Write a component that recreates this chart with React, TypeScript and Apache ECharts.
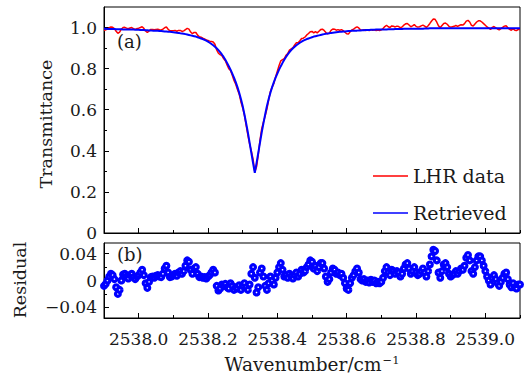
import React, { useEffect, useRef } from "react";
import * as echarts from "echarts";

// Uniform wavenumber grid (cm^-1): start and step of the sampled spectrum
const WN_START = 2537.9;
const WN_STEP = 0.005;

// Panel (a): measured LHR transmittance
const lhrData = [
  0.986, 0.989, 0.993, 0.999, 1.003, 1.001, 0.995, 0.982, 0.972, 0.978,
  0.992, 1.0, 1.001, 0.997, 0.994, 0.998, 1.0, 0.995, 0.991, 0.995,
  0.997, 1.0, 1.004, 0.996, 0.983, 0.976, 0.984, 0.991, 0.991, 0.989,
  0.991, 0.992, 0.989, 0.988, 0.992, 0.999, 1.003, 0.992, 0.984, 0.984,
  0.985, 0.986, 0.982, 0.986, 0.986, 0.981, 0.984, 0.99, 0.996, 0.992,
  0.978, 0.97, 0.976, 0.976, 0.963, 0.955, 0.953, 0.948, 0.945, 0.939,
  0.937, 0.934, 0.932, 0.93, 0.919, 0.891, 0.875, 0.868, 0.863, 0.849,
  0.838, 0.818, 0.8, 0.791, 0.768, 0.742, 0.724, 0.698, 0.676, 0.638,
  0.61, 0.574, 0.525, 0.476, 0.434, 0.4, 0.36, 0.297, 0.322, 0.38,
  0.452, 0.508, 0.541, 0.57, 0.604, 0.648, 0.689, 0.71, 0.728, 0.76,
  0.788, 0.815, 0.838, 0.844, 0.849, 0.865, 0.873, 0.89, 0.896, 0.902,
  0.915, 0.926, 0.926, 0.936, 0.947, 0.948, 0.954, 0.964, 0.971, 0.98,
  0.981, 0.974, 0.98, 0.974, 0.982, 0.99, 0.992, 0.986, 0.976, 0.969,
  0.974, 0.986, 0.993, 0.992, 0.987, 0.99, 0.987, 0.99, 0.985, 0.977,
  0.97, 0.969, 0.979, 0.988, 0.992, 0.999, 1.003, 0.998, 0.988, 0.987,
  0.989, 0.986, 0.988, 0.985, 0.99, 0.987, 0.989, 0.986, 0.988, 0.986,
  0.989, 0.995, 1.005, 1.011, 1.004, 1.0, 1.008, 1.006, 1.003, 1.007,
  1.005, 0.999, 1.003, 1.012, 1.018, 1.02, 1.012, 1.004, 1.008, 1.014,
  1.006, 1.002, 1.004, 1.008, 1.012, 1.007, 1.001, 1.009, 1.02, 1.032,
  1.042, 1.04, 1.026, 1.008, 1.0, 1.01, 1.02, 1.022, 1.016, 1.006,
  1.002, 1.004, 1.006, 1.01, 1.006, 1.01, 1.014, 1.012, 1.019, 1.031,
  1.035, 1.027, 1.011, 1.007, 1.017, 1.027, 1.033, 1.033, 1.027, 1.019,
  1.011, 1.003, 0.997, 0.991, 1.001, 1.005, 0.999, 0.993, 0.989, 0.995,
  1.001, 1.007, 1.009, 0.999, 0.991, 0.987, 0.993, 0.987, 0.985, 0.991,
  0.991,
];

// Panel (a): retrieved (fitted) transmittance
const retrieved = [
  0.994, 0.994, 0.993, 0.993, 0.993, 0.993, 0.993, 0.992, 0.992, 0.992,
  0.992, 0.991, 0.991, 0.991, 0.991, 0.99, 0.99, 0.99, 0.989, 0.989,
  0.989, 0.988, 0.988, 0.988, 0.987, 0.987, 0.986, 0.986, 0.985, 0.985,
  0.984, 0.984, 0.983, 0.983, 0.982, 0.981, 0.981, 0.98, 0.979, 0.978,
  0.977, 0.976, 0.975, 0.974, 0.972, 0.971, 0.97, 0.968, 0.966, 0.964,
  0.962, 0.96, 0.958, 0.956, 0.953, 0.95, 0.947, 0.944, 0.94, 0.936,
  0.931, 0.926, 0.92, 0.914, 0.907, 0.899, 0.89, 0.88, 0.869, 0.857,
  0.843, 0.828, 0.812, 0.795, 0.776, 0.756, 0.734, 0.71, 0.683, 0.652,
  0.618, 0.578, 0.535, 0.49, 0.44, 0.39, 0.34, 0.293, 0.34, 0.39,
  0.44, 0.49, 0.535, 0.578, 0.618, 0.652, 0.683, 0.71, 0.734, 0.756,
  0.776, 0.795, 0.812, 0.828, 0.843, 0.857, 0.869, 0.88, 0.89, 0.899,
  0.907, 0.914, 0.92, 0.926, 0.931, 0.936, 0.94, 0.944, 0.947, 0.95,
  0.953, 0.956, 0.958, 0.96, 0.962, 0.964, 0.966, 0.968, 0.97, 0.971,
  0.972, 0.974, 0.975, 0.976, 0.977, 0.978, 0.979, 0.98, 0.981, 0.981,
  0.982, 0.983, 0.983, 0.984, 0.984, 0.985, 0.985, 0.986, 0.986, 0.987,
  0.987, 0.988, 0.988, 0.988, 0.989, 0.989, 0.989, 0.99, 0.99, 0.99,
  0.991, 0.991, 0.991, 0.991, 0.992, 0.992, 0.992, 0.992, 0.993, 0.993,
  0.993, 0.993, 0.993, 0.994, 0.994, 0.994, 0.994, 0.994, 0.994, 0.994,
  0.994, 0.994, 0.994, 0.994, 0.994, 0.995, 0.995, 0.995, 0.996, 0.996,
  0.996, 0.996, 0.996, 0.996, 0.996, 0.996, 0.996, 0.996, 0.996, 0.996,
  0.996, 0.996, 0.996, 0.996, 0.996, 0.996, 0.996, 0.996, 0.997, 0.997,
  0.997, 0.997, 0.997, 0.997, 0.997, 0.997, 0.997, 0.997, 0.997, 0.997,
  0.997, 0.997, 0.997, 0.997, 0.997, 0.997, 0.997, 0.997, 0.997, 0.997,
  0.997, 0.997, 0.997, 0.997, 0.997, 0.997, 0.997, 0.997, 0.997, 0.997,
  0.997,
];

// Panel (b): residual
const residual = [
  -0.008, -0.005, 0, 0.006, 0.01, 0.008, 0.002, -0.01, -0.02, -0.014,
  0, 0.009, 0.01, 0.006, 0.003, 0.008, 0.01, 0.005, 0.002, 0.006,
  0.008, 0.012, 0.016, 0.008, -0.004, -0.011, -0.002, 0.005, 0.006, 0.004,
  0.007, 0.008, 0.006, 0.005, 0.01, 0.018, 0.022, 0.012, 0.005, 0.006,
  0.008, 0.01, 0.007, 0.012, 0.014, 0.01, 0.014, 0.022, 0.03, 0.028,
  0.016, 0.01, 0.018, 0.02, 0.01, 0.005, 0.006, 0.004, 0.005, 0.003,
  0.006, 0.008, 0.012, 0.016, 0.012, -0.008, -0.015, -0.012, -0.006, -0.008,
  -0.005, -0.01, -0.012, -0.004, -0.008, -0.014, -0.01, -0.012, -0.007, -0.014,
  -0.008, -0.004, -0.01, -0.014, -0.006, 0.01, 0.02, 0.004, -0.018, -0.01,
  0.012, 0.018, 0.006, -0.008, -0.014, -0.004, 0.006, 0, -0.006, 0.004,
  0.012, 0.02, 0.026, 0.016, 0.006, 0.008, 0.004, 0.01, 0.006, 0.003,
  0.008, 0.012, 0.006, 0.01, 0.016, 0.012, 0.014, 0.02, 0.024, 0.03,
  0.028, 0.018, 0.022, 0.014, 0.02, 0.026, 0.026, 0.018, 0.006, -0.002,
  0.002, 0.012, 0.018, 0.016, 0.01, 0.012, 0.008, 0.01, 0.004, -0.004,
  -0.012, -0.014, -0.004, 0.004, 0.008, 0.014, 0.018, 0.012, 0.002, 0,
  0.002, -0.002, 0, -0.003, 0.001, -0.002, 0, -0.004, -0.002, -0.004,
  -0.002, 0.004, 0.014, 0.02, 0.012, 0.008, 0.016, 0.014, 0.01, 0.014,
  0.012, 0.006, 0.01, 0.018, 0.024, 0.026, 0.018, 0.01, 0.014, 0.02,
  0.012, 0.008, 0.01, 0.014, 0.018, 0.012, 0.006, 0.014, 0.024, 0.036,
  0.046, 0.044, 0.03, 0.012, 0.004, 0.014, 0.024, 0.026, 0.02, 0.01,
  0.006, 0.008, 0.01, 0.014, 0.01, 0.014, 0.018, 0.016, 0.022, 0.034,
  0.038, 0.03, 0.014, 0.01, 0.02, 0.03, 0.036, 0.036, 0.03, 0.022,
  0.014, 0.006, 0, -0.006, 0.004, 0.008, 0.002, -0.004, -0.008, -0.002,
  0.004, 0.01, 0.012, 0.002, -0.006, -0.01, -0.004, -0.01, -0.012, -0.006,
  -0.006,
];

// Axis ticks
const xMajorTicks = [2538.0, 2538.2, 2538.4, 2538.6, 2538.8, 2539.0];
const xMinorTicks = [2537.9, 2538.1, 2538.3, 2538.5, 2538.7, 2538.9, 2539.1];
const tMajorTicks = [0, 0.2, 0.4, 0.6, 0.8, 1.0];
const tMinorTicks = [0.1, 0.3, 0.5, 0.7, 0.9];
const rMajorTicks = [-0.04, 0, 0.04];
const rMinorTicks = [-0.02, 0.02];

const wavenumber = lhrData.map((_, i) => +(WN_START + WN_STEP * i).toFixed(3));

const FONT = "DejaVu Serif";
const TXT = "#1a1a1a";
const TICK_FS = 17;
const TITLE_FS = 17.5;
const LEGEND_FS = 19;

export default function App() {
  const ref = useRef<HTMLDivElement>(null);
  useEffect(() => {
    if (!ref.current) return;
    const chart = echarts.init(ref.current, null, { renderer: "svg" });
    const X_MIN = 2537.9;
    const X_MAX = 2539.1;
    const gridTop = { left: 104, top: 7, right: 6, height: 226 };
    const gridBot = { left: 104, top: 243, right: 6, height: 75 };

    const majorX = (gi: number, labels: boolean) => ({
      type: "value",
      gridIndex: gi,
      min: X_MIN,
      max: X_MAX,
      position: "bottom",
      axisLine: { show: true, onZero: false, lineStyle: { color: "#000", width: 1 } },
      axisTick: { show: true, inside: true, length: 5, customValues: xMajorTicks, lineStyle: { color: "#000" } },
      axisLabel: {
        show: labels,
        customValues: xMajorTicks,
        formatter: (v: number) => v.toFixed(1),
        fontFamily: FONT,
        fontSize: TICK_FS,
        color: TXT,
        margin: 12,
      },
      splitLine: { show: false },
    });
    const minorX = (gi: number) => ({
      type: "value",
      gridIndex: gi,
      min: X_MIN,
      max: X_MAX,
      position: "bottom",
      axisLine: { show: false, onZero: false },
      axisTick: { show: true, inside: true, length: 3, customValues: xMinorTicks, lineStyle: { color: "#000" } },
      axisLabel: { show: false },
      splitLine: { show: false },
    });

    const option: any = {
      animation: false,
      textStyle: { fontFamily: FONT },
      grid: [
        { ...gridTop, show: true, borderColor: "#000", borderWidth: 1, backgroundColor: "transparent" },
        { ...gridBot, show: true, borderColor: "#000", borderWidth: 1, backgroundColor: "transparent" },
      ],
      xAxis: [majorX(0, false), minorX(0), majorX(1, true), minorX(1)],
      yAxis: [
        {
          type: "value",
          gridIndex: 0,
          min: 0,
          max: 1.1,
          position: "left",
          axisLine: { show: true, onZero: false, lineStyle: { color: "#000" } },
          axisTick: { show: true, inside: true, length: 5, customValues: tMajorTicks, lineStyle: { color: "#000" } },
          axisLabel: {
            customValues: tMajorTicks,
            formatter: (v: number) => (v === 0 ? "0" : v.toFixed(1)),
            fontFamily: FONT,
            fontSize: TICK_FS,
            color: TXT,
            margin: 7,
          },
          splitLine: { show: false },
        },
        {
          type: "value",
          gridIndex: 0,
          min: 0,
          max: 1.1,
          position: "left",
          axisLine: { show: false },
          axisTick: { show: true, inside: true, length: 3, customValues: tMinorTicks, lineStyle: { color: "#000" } },
          axisLabel: { show: false },
          splitLine: { show: false },
        },
        {
          type: "value",
          gridIndex: 1,
          min: -0.056,
          max: 0.056,
          position: "left",
          axisLine: { show: true, onZero: false, lineStyle: { color: "#000" } },
          axisTick: { show: true, inside: true, length: 5, customValues: rMajorTicks, lineStyle: { color: "#000" } },
          axisLabel: {
            customValues: rMajorTicks,
            formatter: (v: number) =>
              Math.abs(v) < 1e-9 ? "0" : v < 0 ? "\u2212" + Math.abs(v).toFixed(2) : v.toFixed(2),
            fontFamily: FONT,
            fontSize: TICK_FS,
            color: TXT,
            margin: 7,
          },
          splitLine: { show: false },
        },
        {
          type: "value",
          gridIndex: 1,
          min: -0.056,
          max: 0.056,
          position: "left",
          axisLine: { show: false },
          axisTick: { show: true, inside: true, length: 3, customValues: rMinorTicks, lineStyle: { color: "#000" } },
          axisLabel: { show: false },
          splitLine: { show: false },
        },
      ],
      legend: {
        orient: "vertical",
        left: 373,
        top: 165,
        padding: 0,
        icon: "rect",
        itemWidth: 35,
        itemHeight: 1.5,
        itemGap: 15,
        data: ["LHR data", "Retrieved"],
        textStyle: { fontFamily: FONT, fontSize: LEGEND_FS, color: TXT, lineHeight: 22 },
      },
      series: [
        {
          name: "LHR data",
          type: "line",
          xAxisIndex: 0,
          yAxisIndex: 0,
          data: wavenumber.map((w, i) => [w, lhrData[i]]),
          symbol: "none",
          lineStyle: { color: "#ff0000", width: 1.5 },
          itemStyle: { color: "#ff0000" },
        },
        {
          name: "Retrieved",
          type: "line",
          xAxisIndex: 0,
          yAxisIndex: 0,
          data: wavenumber.map((w, i) => [w, retrieved[i]]),
          symbol: "none",
          lineStyle: { color: "#0000ff", width: 2 },
          itemStyle: { color: "#0000ff" },
        },
        {
          name: "Residual",
          type: "scatter",
          xAxisIndex: 2,
          yAxisIndex: 2,
          data: wavenumber.map((w, i) => [w, residual[i]]),
          symbol: "circle",
          symbolSize: 4.8,
          itemStyle: { color: "#ffffff", borderColor: "#0000ff", borderWidth: 3.2, opacity: 1 },
        },
      ],
      graphic: [
        {
          type: "text",
          left: 117,
          top: 32,
          style: { text: "(a)", fontFamily: FONT, fontSize: 18, fill: TXT },
        },
        {
          type: "text",
          left: 117,
          top: 245,
          style: { text: "(b)", fontFamily: FONT, fontSize: 18, fill: TXT },
        },
        {
          type: "text",
          x: 46,
          y: 124,
          rotation: Math.PI / 2,
          style: {
            text: "Transmittance",
            fontFamily: FONT,
            fontSize: TITLE_FS,
            fill: TXT,
            align: "center",
            verticalAlign: "middle",
          },
        },
        {
          type: "text",
          x: 20,
          y: 280,
          rotation: Math.PI / 2,
          style: {
            text: "Residual",
            fontFamily: FONT,
            fontSize: TITLE_FS,
            fill: TXT,
            align: "center",
            verticalAlign: "middle",
          },
        },
        {
          type: "text",
          x: 312,
          y: 354,
          style: {
            text: "{m|Wavenumber/cm}{s|\u22121}",
            align: "center",
            verticalAlign: "top",
            rich: {
              m: { fontFamily: FONT, fontSize: 18.5, fill: TXT, lineHeight: 20 },
              s: { fontFamily: FONT, fontSize: 11.5, fill: TXT, verticalAlign: "top", padding: [0, 0, 0, 1] },
            },
          },
        },
      ],
    };
    chart.setOption(option);
    return () => chart.dispose();
  }, []);
  return (
    <div
      ref={ref}
      style={{ position: "fixed", left: 0, top: 0, width: 526, height: 374, background: "#fff" }}
    />
  );
}
